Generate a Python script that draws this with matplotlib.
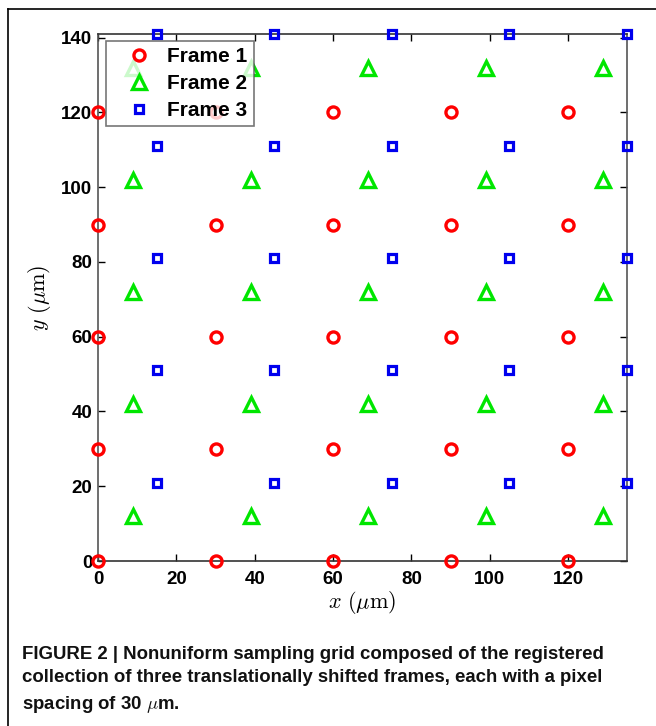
import matplotlib
matplotlib.use("Agg")
import matplotlib.pyplot as plt
from matplotlib.lines import Line2D
import numpy as np

plt.rcParams['mathtext.fontset'] = 'cm'

frame1_x = [0, 30, 60, 90, 120]
frame1_y = [0, 30, 60, 90, 120]
frame2_x = [9, 39, 69, 99, 129]
frame2_y = [12, 42, 72, 102, 132]
frame3_x = [15, 45, 75, 105, 135]
frame3_y = [21, 51, 81, 111, 141]
labels = ["Frame 1", "Frame 2", "Frame 3"]
x_ticks = [0, 20, 40, 60, 80, 100, 120]
y_ticks = [0, 20, 40, 60, 80, 100, 120, 140]

fig = plt.figure(figsize=(6.56, 7.26), dpi=100)
ax = fig.add_axes([98/656, 1-561/726, (627-98)/656, (561-34)/726])

def grid(xs, ys):
    X, Y = np.meshgrid(xs, ys)
    return X.ravel(), Y.ravel()

x1, y1 = grid(frame1_x, frame1_y)
x2, y2 = grid(frame2_x, frame2_y)
x3, y3 = grid(frame3_x, frame3_y)

ax.plot(x1, y1, 'o', ls='none', mfc='none', mec='red', mew=2.4, ms=8.0, label=labels[0], clip_on=False, zorder=3)
ax.plot(x2, y2, '^', ls='none', mfc='none', mec='#00e600', mew=2.4, ms=10, label=labels[1], clip_on=False, zorder=3)
ax.plot(x3, y3, 's', ls='none', mfc='none', mec='#0000ee', mew=2.3, ms=5.6, label=labels[2], clip_on=False, zorder=3)

ax.set_xlim(0, 135)
ax.set_ylim(0, 141)
ax.set_xticks(x_ticks)
ax.set_yticks(y_ticks)
ax.tick_params(direction='in', top=True, right=True, length=5, width=1, labelsize=13.5, pad=4)
ax.tick_params(axis='x', pad=7)
for lab in ax.get_xticklabels() + ax.get_yticklabels():
    lab.set_fontweight('bold')
    lab.set_family('Liberation Sans')
for s in ['left', 'right']:
    ax.spines[s].set_color('#555555')
    ax.spines[s].set_linewidth(1.2)
for s in ['top', 'bottom']:
    ax.spines[s].set_color('#333333')
    ax.spines[s].set_linewidth(1.2)

ax.set_xlabel(r'$x\ (\mu\mathrm{m})$', fontsize=16, labelpad=1)
ax.set_ylabel(r'$y\ (\mu\mathrm{m})$', fontsize=16, labelpad=6)

leg = ax.legend(loc='upper left', bbox_to_anchor=(8/529, 1-7/527), frameon=True, fancybox=False,
                prop={'family': 'Liberation Sans', 'weight': 'bold', 'size': 15},
                handletextpad=0.05, borderpad=0.3, labelspacing=0.38, handlelength=2.6,
                borderaxespad=0)
leg.get_frame().set_edgecolor('#555555')
leg.get_frame().set_linewidth(1.2)

# outer border (left and top)
fig.add_artist(Line2D([8/656, 8/656], [0, 1-9/726], transform=fig.transFigure, color='black', lw=1.2))
fig.add_artist(Line2D([8/656, 1], [1-9/726, 1-9/726], transform=fig.transFigure, color='black', lw=1.2))

caption = ("FIGURE 2 | Nonuniform sampling grid composed of the registered\n"
           "collection of three translationally shifted frames, each with a pixel\n"
           "spacing of 30 $\\mu$m.")
fig.text(22/656, 1-646/726, caption, ha='left', va='top', fontsize=13.4, fontweight='bold',
         family='Liberation Sans', linespacing=1.5, color='#111111')

fig.savefig('out.png', dpi=100)
